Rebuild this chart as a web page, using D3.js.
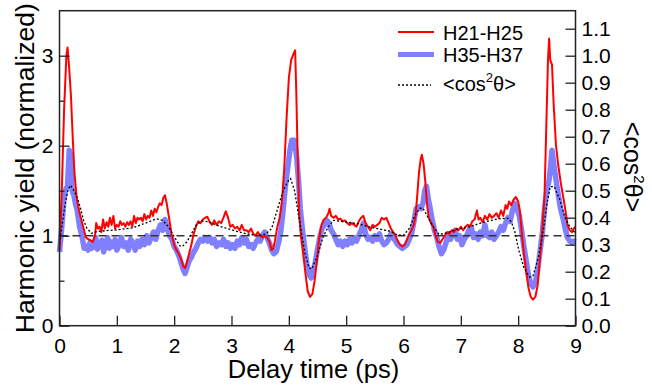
<!DOCTYPE html>
<html>
<head>
<meta charset="utf-8">
<script src="https://cdn.jsdelivr.net/npm/d3@7"></script>
<style>
  body { margin: 0; background: #fff; }
  svg { display: block; font-family: "Liberation Sans", Arial, sans-serif; }
</style>
</head>
<body>
<div id="chart"></div>
<script>
// --- DATA --- [delay (ps), value]
const h21h25 = [
  [0,0.84],[0.04,1.5],[0.08,2.4],[0.12,3.0],[0.14,3.09],[0.17,2.85],[0.2,2.55],[0.23,2.1],[0.26,1.7],[0.3,1.42],
  [0.34,1.28],[0.38,1.18],[0.42,1.08],[0.46,0.98],[0.5,0.96],[0.54,0.95],[0.58,0.93],[0.62,1.0],[0.64,1.14],[0.67,1.08],
  [0.7,1.1],[0.73,1.04],[0.76,1.18],[0.79,1.08],[0.82,1.15],[0.85,1.1],[0.88,1.2],[0.91,1.12],[0.94,1.22],[0.97,1.08],
  [1.0,1.12],[1.03,1.1],[1.06,1.16],[1.09,1.12],[1.12,1.14],[1.15,1.1],[1.18,1.15],[1.21,1.12],[1.24,1.16],[1.27,1.1],
  [1.3,1.22],[1.33,1.14],[1.36,1.2],[1.39,1.18],[1.42,1.2],[1.45,1.16],[1.48,1.24],[1.51,1.18],[1.54,1.22],[1.57,1.2],
  [1.6,1.28],[1.63,1.22],[1.66,1.3],[1.69,1.26],[1.72,1.32],[1.75,1.36],[1.78,1.34],[1.81,1.42],[1.84,1.45],[1.87,1.36],
  [1.9,1.24],[1.93,1.12],[1.96,1.0],[2.0,0.9],[2.04,0.84],[2.08,0.8],[2.12,0.74],[2.16,0.66],[2.19,0.64],[2.22,0.7],
  [2.26,0.8],[2.3,0.9],[2.34,1.02],[2.38,1.1],[2.42,1.16],[2.46,1.14],[2.5,1.18],[2.54,1.2],[2.58,1.21],[2.62,1.15],
  [2.66,1.12],[2.7,1.17],[2.74,1.12],[2.78,1.16],[2.82,1.14],[2.86,1.2],[2.9,1.27],[2.94,1.2],[2.98,1.1],[3.02,1.12],
  [3.06,1.08],[3.1,1.1],[3.14,1.06],[3.18,1.12],[3.22,1.06],[3.26,1.06],[3.3,1.04],[3.34,1.08],[3.38,1.02],[3.42,1.0],
  [3.46,1.04],[3.5,1.0],[3.54,0.98],[3.58,1.0],[3.62,0.98],[3.66,0.94],[3.7,0.84],[3.73,0.86],[3.76,0.95],[3.8,1.1],
  [3.84,1.2],[3.88,1.38],[3.92,1.75],[3.96,2.3],[4.0,2.75],[4.04,2.95],[4.08,3.02],[4.11,3.06],[4.13,2.6],[4.15,2.0],
  [4.18,1.25],[4.21,1.0],[4.25,0.8],[4.29,0.58],[4.33,0.38],[4.37,0.32],[4.41,0.35],[4.45,0.5],[4.49,0.72],[4.53,0.98],
  [4.57,1.12],[4.61,1.18],[4.65,1.2],[4.69,1.25],[4.71,1.3],[4.74,1.22],[4.78,1.2],[4.82,1.22],[4.86,1.18],[4.9,1.19],
  [4.94,1.16],[4.98,1.17],[5.02,1.14],[5.06,1.12],[5.1,1.14],[5.14,1.12],[5.18,1.1],[5.22,1.16],[5.26,1.2],[5.3,1.22],
  [5.34,1.14],[5.38,1.1],[5.42,1.06],[5.46,1.12],[5.5,1.1],[5.54,1.12],[5.58,1.14],[5.62,1.2],[5.66,1.18],[5.7,1.2],
  [5.74,1.14],[5.78,1.08],[5.82,1.04],[5.86,1.0],[5.9,0.94],[5.94,0.9],[5.98,0.88],[6.02,0.9],[6.06,0.96],[6.1,1.02],
  [6.14,1.06],[6.18,1.12],[6.21,1.22],[6.24,1.45],[6.27,1.7],[6.3,1.85],[6.32,1.9],[6.35,1.8],[6.38,1.6],[6.41,1.35],
  [6.44,1.2],[6.48,1.14],[6.52,1.1],[6.56,1.0],[6.6,0.93],[6.64,0.92],[6.68,0.96],[6.72,1.0],[6.76,1.04],[6.8,1.02],
  [6.84,1.06],[6.88,1.04],[6.92,1.08],[6.96,1.06],[7.0,1.1],[7.04,1.06],[7.08,1.1],[7.12,1.12],[7.16,1.1],[7.2,1.16],
  [7.24,1.18],[7.28,1.28],[7.31,1.18],[7.34,1.2],[7.38,1.15],[7.42,1.22],[7.46,1.18],[7.5,1.24],[7.54,1.2],[7.58,1.22],
  [7.62,1.25],[7.66,1.2],[7.7,1.28],[7.74,1.22],[7.78,1.34],[7.81,1.3],[7.84,1.38],[7.88,1.34],[7.92,1.4],[7.96,1.43],
  [8.0,1.38],[8.03,1.28],[8.06,1.05],[8.1,0.8],[8.14,0.6],[8.18,0.42],[8.22,0.32],[8.26,0.29],[8.3,0.32],[8.34,0.45],
  [8.38,0.75],[8.42,1.06],[8.46,1.45],[8.49,2.2],[8.52,2.95],[8.54,3.19],[8.56,2.95],[8.59,2.9],[8.62,2.45],[8.66,2.0],
  [8.7,1.78],[8.74,1.6],[8.78,1.45],[8.82,1.3],[8.86,1.12],[8.9,1.06],[8.94,1.04],[8.97,1.08],[9.0,1.1]
];

const h35h37 = [
  [0,0.82],[0.04,1.1],[0.08,1.42],[0.11,1.52],[0.14,1.55],[0.17,1.95],[0.19,1.9],[0.22,1.5],[0.25,1.45],[0.28,1.35],
  [0.31,1.28],[0.35,1.1],[0.39,1.0],[0.43,0.86],[0.47,0.88],[0.5,0.84],[0.53,0.92],[0.56,0.86],[0.6,0.88],[0.63,0.98],
  [0.66,0.85],[0.7,0.9],[0.74,0.95],[0.77,0.82],[0.8,0.9],[0.84,0.98],[0.87,0.86],[0.9,0.93],[0.94,0.88],[0.97,0.96],
  [1.0,0.84],[1.04,0.9],[1.08,0.98],[1.12,0.88],[1.16,0.92],[1.2,0.84],[1.24,0.96],[1.28,0.92],[1.32,0.84],[1.36,0.94],
  [1.4,0.88],[1.44,0.96],[1.48,0.9],[1.52,1.0],[1.56,0.92],[1.6,0.98],[1.64,1.04],[1.68,0.96],[1.72,1.06],[1.76,1.12],
  [1.8,1.06],[1.84,1.18],[1.88,1.08],[1.92,1.0],[1.96,0.96],[2.0,0.88],[2.04,0.84],[2.08,0.78],[2.12,0.7],[2.16,0.62],
  [2.19,0.58],[2.22,0.64],[2.26,0.72],[2.3,0.76],[2.34,0.82],[2.38,0.86],[2.42,0.92],[2.46,0.96],[2.5,0.94],[2.54,0.98],
  [2.58,0.94],[2.62,0.98],[2.66,0.92],[2.7,0.96],[2.74,0.88],[2.78,0.92],[2.82,0.9],[2.86,0.96],[2.9,0.88],[2.94,0.92],
  [2.98,0.86],[3.02,0.9],[3.06,0.86],[3.1,0.94],[3.14,0.9],[3.18,0.98],[3.22,0.92],[3.26,0.96],[3.3,0.88],[3.34,0.9],
  [3.38,0.86],[3.42,0.92],[3.46,0.96],[3.5,0.94],[3.54,1.0],[3.58,1.04],[3.62,0.98],[3.66,0.92],[3.7,0.84],[3.74,0.8],
  [3.78,0.82],[3.82,0.92],[3.86,1.05],[3.9,1.28],[3.94,1.55],[3.98,1.75],[4.02,1.95],[4.05,2.06],[4.1,2.06],[4.14,1.85],
  [4.17,1.6],[4.2,1.3],[4.24,1.05],[4.28,0.85],[4.32,0.66],[4.36,0.56],[4.39,0.53],[4.42,0.6],[4.46,0.7],[4.5,0.85],
  [4.54,0.98],[4.58,1.08],[4.62,1.12],[4.66,1.17],[4.7,1.14],[4.74,1.06],[4.78,1.02],[4.82,0.96],[4.86,0.9],[4.9,0.94],
  [4.94,0.88],[4.98,0.94],[5.02,0.9],[5.06,0.96],[5.1,0.92],[5.14,0.98],[5.18,0.94],[5.22,1.0],[5.26,1.06],[5.3,1.14],
  [5.34,1.02],[5.38,0.96],[5.42,0.98],[5.46,0.94],[5.5,1.0],[5.54,0.96],[5.58,1.02],[5.62,0.94],[5.66,0.9],[5.7,0.92],
  [5.74,0.96],[5.78,1.02],[5.82,0.98],[5.86,0.94],[5.9,0.9],[5.94,0.88],[5.98,0.86],[6.02,0.88],[6.06,0.9],[6.1,0.96],
  [6.14,1.02],[6.18,1.15],[6.22,1.3],[6.26,1.32],[6.3,1.3],[6.34,1.36],[6.37,1.5],[6.4,1.55],[6.43,1.42],[6.46,1.32],
  [6.5,1.18],[6.54,1.06],[6.58,0.98],[6.62,0.88],[6.66,0.8],[6.7,0.84],[6.74,0.92],[6.78,1.0],[6.82,0.96],[6.86,1.02],
  [6.9,1.06],[6.94,0.96],[6.98,1.0],[7.02,0.9],[7.06,0.96],[7.1,1.0],[7.14,1.06],[7.18,1.1],[7.22,0.98],[7.26,1.02],
  [7.3,0.96],[7.34,1.04],[7.38,1.0],[7.42,1.12],[7.46,1.0],[7.5,0.98],[7.54,1.04],[7.58,0.96],[7.62,1.0],[7.66,1.04],
  [7.7,1.1],[7.74,1.06],[7.78,1.14],[7.82,1.2],[7.86,1.16],[7.9,1.28],[7.94,1.36],[7.98,1.3],[8.02,1.22],[8.06,1.06],
  [8.1,0.88],[8.14,0.72],[8.18,0.56],[8.22,0.46],[8.26,0.43],[8.3,0.48],[8.34,0.62],[8.38,0.82],[8.42,1.02],[8.46,1.3],
  [8.5,1.5],[8.54,1.62],[8.57,1.8],[8.59,1.95],[8.62,1.8],[8.66,1.62],[8.7,1.45],[8.74,1.3],[8.78,1.2],[8.82,1.08],
  [8.86,0.98],[8.9,0.94],[8.94,0.92],[8.97,0.94],[9.0,0.93]
];

// alignment <cos^2 theta>, plotted on the right axis
const cos2theta = [
  [0,0.305],[0.05,0.38],[0.1,0.453],[0.15,0.505],[0.19,0.52],[0.24,0.505],[0.3,0.48],[0.36,0.44],[0.42,0.39],[0.48,0.36],
  [0.56,0.342],[0.64,0.348],[0.8,0.352],[1.0,0.355],[1.27,0.362],[1.5,0.38],[1.69,0.396],[1.8,0.39],[1.9,0.367],[2.0,0.33],
  [2.1,0.296],[2.14,0.293],[2.22,0.31],[2.3,0.34],[2.38,0.372],[2.48,0.388],[2.6,0.385],[2.8,0.368],[3.05,0.352],[3.27,0.34],
  [3.45,0.333],[3.6,0.34],[3.7,0.36],[3.8,0.43],[3.9,0.5],[4.0,0.54],[4.03,0.545],[4.1,0.5],[4.2,0.37],[4.28,0.27],
  [4.35,0.215],[4.4,0.21],[4.5,0.26],[4.6,0.33],[4.69,0.367],[4.78,0.39],[4.95,0.385],[5.2,0.378],[5.42,0.365],[5.6,0.357],
  [5.77,0.35],[5.9,0.335],[6.0,0.335],[6.1,0.36],[6.2,0.41],[6.29,0.435],[6.34,0.435],[6.43,0.4],[6.52,0.367],[6.62,0.338],
  [6.72,0.342],[6.93,0.357],[7.16,0.367],[7.39,0.383],[7.65,0.396],[7.82,0.398],[7.88,0.385],[7.94,0.35],[8.01,0.28],[8.1,0.215],
  [8.2,0.18],[8.26,0.185],[8.35,0.25],[8.44,0.354],[8.5,0.45],[8.56,0.515],[8.63,0.515],[8.73,0.465],[8.81,0.404],[8.9,0.367],
  [9.0,0.342]
];

const xTicks = [0, 1, 2, 3, 4, 5, 6, 7, 8, 9];
const yTicks = [0, 1, 2, 3];
const yMinorTicks = [0.5, 1.5, 2.5];
const rightTicks = [0, 0.1, 0.2, 0.3, 0.4, 0.5, 0.6, 0.7, 0.8, 0.9, 1.0, 1.1];
const reference = 1;

// --- SETUP ---
const width = 652, height = 386;
const plotLeft = 59.5, plotRight = 575.5, plotTop = 10.7, plotBottom = 325.7;

const svg = d3.select("#chart")
    .append("svg")
    .attr("width", width)
    .attr("height", height);

const x = d3.scaleLinear().domain([0, 9]).range([plotLeft, plotRight]);
const y = d3.scaleLinear().domain([0, 3.5]).range([plotBottom, plotTop]);
const yR = d3.scaleLinear().domain([0, 3.5 / 3]).range([plotBottom, plotTop]);

// --- DATA LINES ---
const line = d3.line().x(d => x(d[0])).y(d => y(d[1]));
const lineR = d3.line().x(d => x(d[0])).y(d => yR(d[1]));

svg.append("path")
    .datum(h35h37)
    .attr("d", line)
    .attr("fill", "none")
    .attr("stroke", "#8080ff")
    .attr("stroke-width", 5.5)
    .attr("stroke-linejoin", "round");

svg.append("line")
    .attr("x1", x(0)).attr("x2", x(9))
    .attr("y1", y(reference)).attr("y2", y(reference))
    .attr("stroke", "#333")
    .attr("stroke-width", 1.5)
    .attr("stroke-dasharray", "8,5");

svg.append("path")
    .datum(h21h25)
    .attr("d", line)
    .attr("fill", "none")
    .attr("stroke", "#ff0000")
    .attr("stroke-width", 2)
    .attr("stroke-linejoin", "round");

svg.append("path")
    .datum(cos2theta)
    .attr("d", lineR)
    .attr("fill", "none")
    .attr("stroke", "#000")
    .attr("stroke-width", 1.3)
    .attr("stroke-dasharray", "2,2");

// --- AXES ---
const styleAxis = g => {
    g.select(".domain").remove();
    g.selectAll(".tick line").attr("stroke", "#222").attr("stroke-width", 1.3);
    g.selectAll(".tick text").attr("fill", "#000").attr("font-size", 21)
        .attr("font-family", "Liberation Sans, Arial, sans-serif");
};

svg.append("g")
    .attr("transform", `translate(0,${plotBottom})`)
    .call(d3.axisBottom(x).tickValues(xTicks).tickFormat(d3.format("d")).tickSize(-10).tickPadding(12))
    .call(styleAxis);

svg.append("g")
    .attr("transform", `translate(${plotLeft},0)`)
    .call(d3.axisLeft(y).tickValues(yTicks).tickFormat(d3.format("d")).tickSize(-10).tickPadding(6))
    .call(styleAxis);

svg.append("g")
    .attr("transform", `translate(${plotLeft},0)`)
    .call(d3.axisLeft(y).tickValues(yMinorTicks).tickFormat("").tickSize(-5))
    .call(styleAxis);

svg.append("g")
    .attr("transform", `translate(${plotRight},0)`)
    .call(d3.axisRight(yR).tickValues(rightTicks).tickFormat(d3.format(".1f")).tickSize(-10).tickPadding(6))
    .call(styleAxis);

// frame
svg.append("rect")
    .attr("x", plotLeft).attr("y", plotTop)
    .attr("width", plotRight - plotLeft).attr("height", plotBottom - plotTop)
    .attr("fill", "none")
    .attr("stroke", "#222")
    .attr("stroke-width", 1.5);

// --- TITLES ---
svg.append("text")
    .attr("x", (plotLeft + plotRight) / 2 - 4)
    .attr("y", 378)
    .attr("text-anchor", "middle")
    .attr("font-size", 25.5)
    .text("Delay time (ps)");

svg.append("text")
    .attr("transform", `translate(34,${(plotTop + plotBottom) / 2}) rotate(-90)`)
    .attr("text-anchor", "middle")
    .attr("font-size", 26.5)
    .text("Harmonic yield (normalized)");

const rTitle = svg.append("text")
    .attr("transform", "translate(624,167) rotate(90)")
    .attr("text-anchor", "middle")
    .attr("font-size", 25);
rTitle.append("tspan").text("<cos");
rTitle.append("tspan").attr("font-size", 15).attr("dy", -10).text("2");
rTitle.append("tspan").attr("dy", 10).text("θ>");

// --- LEGEND ---
const legend = svg.append("g");
legend.append("line")
    .attr("x1", 398).attr("x2", 434).attr("y1", 32).attr("y2", 32)
    .attr("stroke", "#ff0000").attr("stroke-width", 2);
legend.append("line")
    .attr("x1", 398).attr("x2", 434).attr("y1", 54.5).attr("y2", 54.5)
    .attr("stroke", "#8080ff").attr("stroke-width", 5);
legend.append("line")
    .attr("x1", 398).attr("x2", 431).attr("y1", 85).attr("y2", 85)
    .attr("stroke", "#000").attr("stroke-width", 1.3).attr("stroke-dasharray", "2,2");

legend.append("text").attr("x", 443).attr("y", 39.5).attr("font-size", 20).text("H21-H25");
legend.append("text").attr("x", 443).attr("y", 61.5).attr("font-size", 20).text("H35-H37");
const lt = legend.append("text").attr("x", 443).attr("y", 91).attr("font-size", 20);
lt.append("tspan").text("<cos");
lt.append("tspan").attr("font-size", 13).attr("dy", -9).text("2");
lt.append("tspan").attr("dy", 9).text("θ>");
</script>
</body>
</html>
